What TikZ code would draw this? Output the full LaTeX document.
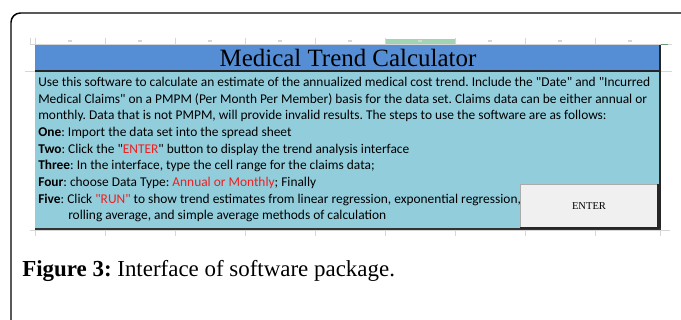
\documentclass[tikz,border=0pt]{standalone}
\usepackage{fontspec}
\setmainfont{Liberation Serif}
\newfontfamily\cellfont{Carlito}
\usepackage{xcolor}
\usepackage{tikz}
\frenchspacing

\definecolor{titleblue}{RGB}{85,142,213}
\definecolor{bodycyan}{RGB}{146,205,220}
\definecolor{btngray}{RGB}{240,240,240}
\definecolor{gridgray}{RGB}{214,214,214}
\definecolor{selgreen}{RGB}{160,212,180}
\definecolor{warnred}{RGB}{240,30,30}

\begin{document}
\begin{tikzpicture}[x=0.75pt, y=-0.75pt,
    celltext/.style={font=\cellfont\fontsize{10.05}{12.5}\selectfont, anchor=base west, inner sep=0pt},
    gridline/.style={draw=gridgray, line width=0.6pt}]
    \useasboundingbox (0,0) rectangle (681,320);
    \clip (0,0) rectangle (681,320);

    % Coordinates
    \coordinate (TL) at (35,45);
    \coordinate (TR) at (660,71);
    \coordinate (BL) at (35,71);
    \coordinate (BR) at (660,229);
    \coordinate (K1) at (520,184);
    \coordinate (K2) at (658,228);

    % Outer frame
    \draw[line width=1.1pt, rounded corners=7] (11,340) -- (11,13) -- (700,13);

    % Column header row
    \fill[selgreen] (385,39) rectangle (455,44.5);
    \draw[gridline] (30,44.5) -- (672,44.5);
    \foreach \x in {35,105,...,595} {
        \draw[gridline] (\x,38) -- (\x,44.5);
        \draw[gridline, line width=0.8pt] (\x+33,41) -- (\x+37,41);
    }
    \draw[gridline] (30,38) -- (30,44.5);
    \draw[selgreen!70!black, line width=0.8pt] (661,44.5) -- (668,44.5);

    % Title bar
    \fill[titleblue] (TL) rectangle (TR);
    \node[font=\fontsize{18.7}{20}\selectfont, inner sep=0pt] (title) at (348,58) {Medical Trend Calculator};

    % Body
    \fill[bodycyan] (BL) rectangle (BR);
    \draw[gridline] (25,71) -- (35,71);
    \draw[gridline] (660,71) -- (672,71);
    \draw[black!85, line width=0.8pt] (BL) -- (TR);
    \draw[black!85, line width=0.8pt] (660,45) -- (BR);
    \draw[black!80, line width=1.6pt] (35,229) -- (661,229);

    % Grid below
    \draw[gridline] (30,230.5) -- (670,230.5);
    \foreach \x in {35,105,...,595,660} {
        \draw[gridline] (\x,230) -- (\x,236);
    }

    % Text
    \node[celltext] (l1) at (38,86.5) {Use this software to calculate an estimate of the annualized medical cost trend. Include the "Date" and "Incurred};
    \node[celltext] (l2) at (38,103.2) {Medical Claims" on a PMPM (Per Month Per Member) basis for the data set. Claims data can be either annual or};
    \node[celltext] (l3) at (38,119.8) {monthly. Data that is not PMPM, will provide invalid results. The steps to use the software are as follows:};
    \node[celltext] (l4) at (38,136.5) {\textbf{One}: Import the data set into the spread sheet};
    \node[celltext] (l5) at (38,153.1) {\textbf{Two}: Click the "\textcolor{warnred}{ENTER}" button to display the trend analysis interface};
    \node[celltext] (l6) at (38,169.8) {\textbf{Three}: In the interface, type the cell range for the claims data;};
    \node[celltext] (l7) at (38,186.4) {\textbf{Four}: choose Data Type: \textcolor{warnred}{Annual or Monthly}; Finally};
    \node[celltext] (l8) at (38,203.1) {\textbf{Five}: Click \textcolor{warnred}{"RUN"} to show trend estimates from linear regression, exponential regression,};
    \node[celltext] (l9) at (68,219.7) {rolling average, and simple average methods of calculation};

    % Button
    \fill[btngray] (K1) rectangle (K2);
    \draw[gridgray!80!black, line width=0.5pt] (520,228) -- (K1) -- (658,184);
    \draw[black!85, line width=1.2pt] (658,184) -- (K2) -- (520,228);
    \node[font=\fontsize{7.9}{9}\selectfont, inner sep=0pt] (enter) at (589,206) {ENTER};

    % Caption
    \node[font=\fontsize{17.2}{20}\selectfont, anchor=base west, inner sep=0pt] (caption) at (22,276) {\textbf{Figure 3:} Interface of software package.};
\end{tikzpicture}
\end{document}
